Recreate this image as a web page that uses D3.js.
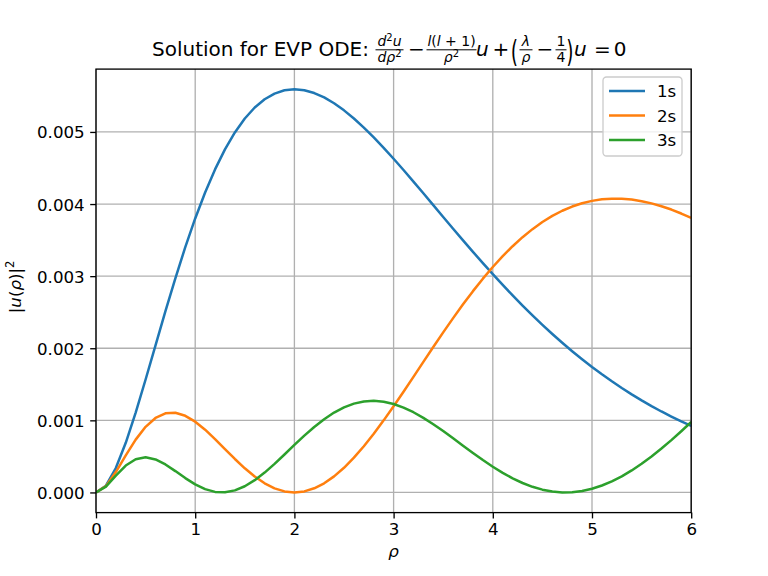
<!DOCTYPE html>
<meta charset="utf-8">
<script src="https://d3js.org/d3.v7.min.js"></script>
<style>
  body { margin: 0; background: #fff; }
  text { font-family: "DejaVu Sans", sans-serif; fill: #000; }
</style>
<svg id="chart" width="768" height="576"></svg>
<script>

// sample points on the rho axis
var rho = [0, 0.1, 0.2, 0.3, 0.4, 0.5, 0.6, 0.7, 0.8, 0.9,
           1, 1.1, 1.2, 1.3, 1.4, 1.5, 1.6, 1.7, 1.8, 1.9,
           2, 2.1, 2.2, 2.3, 2.4, 2.5, 2.6, 2.7, 2.8, 2.9,
           3, 3.1, 3.2, 3.3, 3.4, 3.5, 3.6, 3.7, 3.8, 3.9,
           4, 4.1, 4.2, 4.3, 4.4, 4.5, 4.6, 4.7, 4.8, 4.9,
           5, 5.1, 5.2, 5.3, 5.4, 5.5, 5.6, 5.7, 5.8, 5.9, 6];

// |u|^2, in units of 1e-3
var u1s = [0, 0.0935, 0.3383, 0.6887, 1.1079, 1.5664, 2.0409, 2.5136, 2.9706, 3.4019,
           3.8002, 4.1607, 4.4803, 4.7578, 4.9928, 5.1861, 5.3391, 5.4538, 5.5324, 5.5776,
           5.5921, 5.5785, 5.5398, 5.4787, 5.3978, 5.2996, 5.1866, 5.0610, 4.9248, 4.7801,
           4.6287, 4.4721, 4.3118, 4.1491, 3.9852, 3.8212, 3.6580, 3.4964, 3.3370, 3.1804,
           3.0273, 2.8779, 2.7326, 2.5917, 2.4553, 2.3238, 2.1972, 2.0754, 1.9588, 1.8470,
           1.7401, 1.6382, 1.5410, 1.4485, 1.3606, 1.2771, 1.1980, 1.1230, 1.0522, 0.9849, 0.9219];

var u2s = [0, 0.0871, 0.2830, 0.5140, 0.7324, 0.9101, 1.0330, 1.0969, 1.1046, 1.0629,
           0.9813, 0.8703, 0.7404, 0.6020, 0.4641, 0.3348, 0.2206, 0.1267, 0.0571, 0.0144,
           0, 0.0144, 0.0572, 0.1273, 0.2230, 0.3421, 0.4822, 0.6404, 0.8139, 0.9998,
           1.1953, 1.3973, 1.6033, 1.8107, 2.0170, 2.2202, 2.4182, 2.6093, 2.7919, 2.9648,
           3.1269, 3.2773, 3.4153, 3.5403, 3.6519, 3.7505, 3.8355, 3.9069, 3.9655, 4.0112,
           4.0441, 4.0652, 4.0749, 4.0734, 4.0616, 4.0399, 4.0091, 3.9700, 3.9236, 3.8684, 3.8089];

var u3s = [0, 0.0805, 0.2333, 0.3732, 0.4612, 0.4872, 0.4578, 0.3881, 0.2961, 0.1991,
           0.1119, 0.0456, 0.0076, 0.0017, 0.0285, 0.0859, 0.1700, 0.2756, 0.3964, 0.5262,
           0.6586, 0.7878, 0.9085, 1.0163, 1.1077, 1.1801, 1.2318, 1.2619, 1.2705, 1.2583,
           1.2266, 1.1772, 1.1124, 1.0346, 0.9465, 0.8509, 0.7507, 0.6486, 0.5472, 0.4491,
           0.3566, 0.2715, 0.1958, 0.1310, 0.0782, 0.0385, 0.0125, 0.0007, 0.0033, 0.0202,
           0.0512, 0.0959, 0.1536, 0.2237, 0.3052, 0.3972, 0.4987, 0.6086, 0.7258, 0.8488, 0.9772];

var labels = ["1s", "2s", "3s"];
var colors = ["#1f77b4", "#ff7f0e", "#2ca02c"];
var xTicks = [0, 1, 2, 3, 4, 5, 6];
var yTicks = [0, 1, 2, 3, 4, 5];   // x 1e-3

var series = [u1s, u2s, u3s];

var svg = d3.select("#chart");
var margin = {left: 96, right: 691.2, top: 69.1, bottom: 512.6};

// matplotlib style 5% padding on y
var ymax = d3.max(series, function(s) { return d3.max(s); });
var pad = 0.05 * ymax;

var x = d3.scaleLinear().domain([0, 6]).range([margin.left, margin.right]);
var y = d3.scaleLinear().domain([-pad, ymax + pad]).range([margin.bottom, margin.top]);

// grid
var grid = svg.append("g");
grid.selectAll(".gx").data(xTicks).enter().append("line")
  .attr("x1", function(d) { return x(d); }).attr("x2", function(d) { return x(d); })
  .attr("y1", margin.top).attr("y2", margin.bottom)
  .attr("stroke", "#b0b0b0").attr("stroke-width", 1.33);
grid.selectAll(".gy").data(yTicks).enter().append("line")
  .attr("x1", margin.left).attr("x2", margin.right)
  .attr("y1", function(d) { return y(d); }).attr("y2", function(d) { return y(d); })
  .attr("stroke", "#b0b0b0").attr("stroke-width", 1.33);

// curves
svg.append("clipPath").attr("id", "clip").append("rect")
  .attr("x", margin.left).attr("y", margin.top)
  .attr("width", margin.right - margin.left).attr("height", margin.bottom - margin.top);

var line = d3.line()
  .x(function(d, i) { return x(rho[i]); })
  .y(function(d) { return y(d); });

svg.append("g").attr("clip-path", "url(#clip)")
  .selectAll("path").data(series).enter().append("path")
  .attr("d", line)
  .attr("fill", "none")
  .attr("stroke", function(d, i) { return colors[i]; })
  .attr("stroke-width", 2.5)
  .attr("stroke-linejoin", "round");

// axes
var xAxis = d3.axisBottom(x).tickValues(xTicks).tickSize(5.8).tickPadding(5).tickFormat(d3.format("d"));
var yAxis = d3.axisLeft(y).tickValues(yTicks).tickSize(5.8).tickPadding(5.5)
  .tickFormat(function(d) { return (d / 1000).toFixed(3); });

var gx = svg.append("g").attr("transform", "translate(0," + margin.bottom + ")").call(xAxis);
var gy = svg.append("g").attr("transform", "translate(" + margin.left + ",0)").call(yAxis);

[gx, gy].forEach(function(g) {
  g.select(".domain").remove();
  g.selectAll(".tick line").attr("stroke", "#000").attr("stroke-width", 1.33);
  g.selectAll(".tick text").attr("font-family", "DejaVu Sans").attr("font-size", 16.67).attr("fill", "#000");
});
gx.selectAll(".tick text").attr("dy", "0.71em");
gy.selectAll(".tick text").attr("dy", "0.36em");

// spines
svg.append("rect")
  .attr("x", margin.left).attr("y", margin.top)
  .attr("width", margin.right - margin.left).attr("height", margin.bottom - margin.top)
  .attr("fill", "none").attr("stroke", "#000").attr("stroke-width", 1.33);

// axis labels
svg.append("text")
  .attr("x", (margin.left + margin.right) / 2).attr("y", 557)
  .attr("text-anchor", "middle").attr("font-size", 16.67).attr("font-style", "italic")
  .text("ρ");

svg.append("text")
  .attr("transform", "translate(21," + ((margin.top + margin.bottom) / 2 - 4) + ") rotate(-90)")
  .attr("text-anchor", "middle").attr("font-size", 16.67)
  .html('|<tspan font-style="italic">u</tspan>(<tspan font-style="italic">ρ</tspan>)|<tspan font-size="11.7" dy="-7">2</tspan>');

// title with the equation
var T = svg.append("g");
var B = 55.5;
T.append("text").attr("x", 152).attr("y", B).attr("font-size", 20).text("Solution for EVP ODE:");

function frac(cx, w, num, den) {
  T.append("text").attr("x", cx).attr("y", B - 9.2).attr("text-anchor", "middle")
    .attr("font-size", 14).html(num);
  T.append("line").attr("x1", cx - w / 2).attr("x2", cx + w / 2)
    .attr("y1", B - 5.7).attr("y2", B - 5.7).attr("stroke", "#000").attr("stroke-width", 1);
  T.append("text").attr("x", cx).attr("y", B + 6.5).attr("text-anchor", "middle")
    .attr("font-size", 14).html(den);
}
function sym(cx, s, italic, anchor) {
  T.append("text").attr("x", cx).attr("y", B).attr("font-size", 20)
    .attr("text-anchor", anchor || "middle")
    .attr("font-style", italic ? "italic" : "normal").text(s);
}
function paren(cx, s) {
  T.append("text").attr("transform", "translate(" + cx + ",61.8) scale(0.6,1)")
    .attr("text-anchor", "middle").attr("font-size", 31).text(s);
}

frac(389.5, 28, '<tspan font-style="italic">d</tspan><tspan font-size="10" dy="-5">2</tspan><tspan font-style="italic" dy="5">u</tspan>',
     '<tspan font-style="italic">dρ</tspan><tspan font-size="10" dy="-5">2</tspan>');
sym(416.5, "−");
frac(451.5, 50, '<tspan font-style="italic">l</tspan>(<tspan font-style="italic">l</tspan> + 1)',
     '<tspan font-style="italic">ρ</tspan><tspan font-size="10" dy="-5">2</tspan>');
sym(476, "u", true, "start");
sym(501, "+");
paren(514.5, "(");
frac(526, 13, '<tspan font-style="italic">λ</tspan>', '<tspan font-style="italic">ρ</tspan>');
sym(545, "−");
frac(561, 11, '1', '4');
paren(570, ")");
sym(574, "u", true, "start");
sym(602.5, "=");
sym(620, "0");

// legend
var lg = svg.append("g");
lg.append("rect").attr("x", 603).attr("y", 77).attr("width", 79).attr("height", 79)
  .attr("rx", 3.5).attr("fill", "#fff").attr("fill-opacity", 0.8)
  .attr("stroke", "#cccccc").attr("stroke-width", 1.33);
var rows = lg.selectAll(".row").data(labels).enter().append("g")
  .attr("transform", function(d, i) { return "translate(0," + (91 + i * 24.5) + ")"; });
rows.append("line").attr("x1", 609).attr("x2", 645).attr("y1", 0).attr("y2", 0)
  .attr("stroke", function(d, i) { return colors[i]; }).attr("stroke-width", 2.5);
rows.append("text").attr("x", 657).attr("y", 6).attr("font-size", 16.67)
  .text(function(d) { return d; });

</script>
